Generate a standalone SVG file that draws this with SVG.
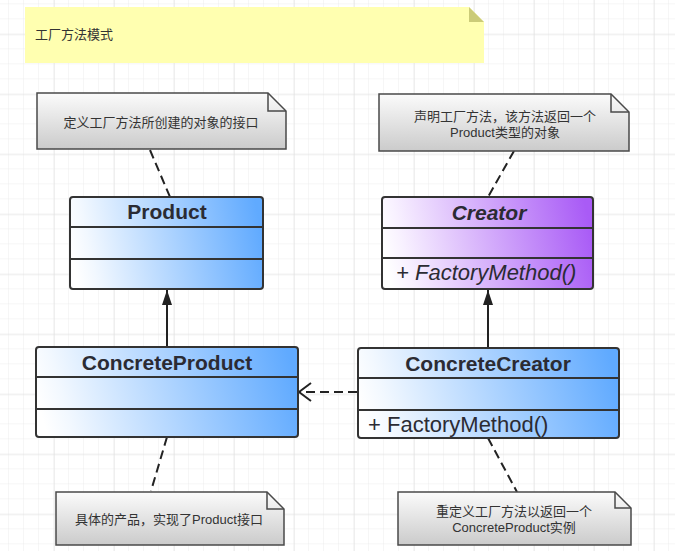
<svg xmlns="http://www.w3.org/2000/svg" width="675" height="551" viewBox="0 0 675 551">
<defs>
<pattern id="gridMinor" x="9" y="4.3" width="15" height="15" patternUnits="userSpaceOnUse">
<path d="M15 0V15M0 15H15" fill="none" stroke="#ededed" stroke-width="1"/>
</pattern>
<pattern id="gridMajor" x="54" y="34.3" width="60" height="60" patternUnits="userSpaceOnUse">
<path d="M0 0V60M0 0H60" fill="none" stroke="#e0e0e0" stroke-width="1"/>
</pattern>
<linearGradient id="blueGrad" x1="0" y1="0.55" x2="1" y2="0.45">
<stop offset="0" stop-color="#ffffff"/>
<stop offset="0.1" stop-color="#f2f8ff"/>
<stop offset="1" stop-color="#60aaff"/>
</linearGradient>
<linearGradient id="purpleGrad" x1="0" y1="0.55" x2="1" y2="0.45">
<stop offset="0" stop-color="#ffffff"/>
<stop offset="0.1" stop-color="#f8f1ff"/>
<stop offset="1" stop-color="#a95bf6"/>
</linearGradient>
<linearGradient id="noteGrad" x1="0" y1="0" x2="0" y2="1">
<stop offset="0" stop-color="#fbfbfb"/>
<stop offset="1" stop-color="#cbcbcb"/>
</linearGradient>
<marker id="triFilled" viewBox="0 0 15 10" refX="15" refY="5" markerWidth="15" markerHeight="10" markerUnits="userSpaceOnUse" orient="auto">
<path d="M15 5L0 0V10Z" fill="#222"/>
</marker>
</defs>
<style>
.cls { stroke: #333; stroke-width: 2; }
.div { stroke: #333; stroke-width: 2; fill: none; }
.title { font-family: "Liberation Sans", Arial, sans-serif; font-weight: bold; font-size: 21px; fill: #2b2b33; text-anchor: middle; }
.method { font-family: "Liberation Sans", Arial, sans-serif; font-size: 22px; fill: #2b2b33; }
.note { fill: url(#noteGrad); stroke: #4a4a4a; stroke-width: 1.5; }
.fold { fill: none; stroke: #4a4a4a; stroke-width: 1.5; }
.ntext { font-family: "Liberation Sans", "Noto Sans CJK SC", sans-serif; font-size: 13px; fill: #333; text-anchor: middle; }
.dash { stroke: #222; stroke-width: 2; fill: none; stroke-dasharray: 9 5; }
.solid { stroke: #222; stroke-width: 2; fill: none; }
</style>
<rect width="675" height="551" fill="#ffffff"/>
<rect width="675" height="551" fill="url(#gridMinor)"/>
<rect width="675" height="551" fill="url(#gridMajor)"/>

<g id="title-note">
<path d="M25 7H469L484 22V63H25Z" fill="#ffffb0"/>
<path d="M469 7V22H484Z" fill="#cbcb78"/>
<text x="35" y="39" style="font-family:'Liberation Sans','Noto Sans CJK SC',sans-serif;font-size:13px;fill:#333">工厂方法模式</text>
</g>

<g id="connectors">
<line class="dash" x1="150" y1="150" x2="170" y2="197"/>
<line class="dash" x1="514" y1="151" x2="488" y2="197"/>
<line class="dash" x1="167" y1="437" x2="151" y2="491"/>
<line class="dash" x1="488" y1="438" x2="517" y2="492"/>
<line class="solid" x1="167" y1="347" x2="167" y2="290" marker-end="url(#triFilled)"/>
<line class="solid" x1="488" y1="348" x2="488" y2="290" marker-end="url(#triFilled)"/>
<line class="dash" x1="357" y1="392" x2="300" y2="392"/>
<path class="solid" d="M311 383L299 392L311 401"/>
</g>

<g id="note-product">
<path class="note" d="M37 93H268L286 111V149H37Z"/>
<path class="fold" d="M268 93V111H286"/>
<text class="ntext" x="161" y="127">定义工厂方法所创建的对象的接口</text>
</g>

<g id="note-creator">
<path class="note" d="M379 94H611L629 112V151H379Z"/>
<path class="fold" d="M611 94V112H629"/>
<text class="ntext" x="505" y="121">声明工厂方法，该方法返回一个</text>
<text class="ntext" x="505" y="137">Product类型的对象</text>
</g>

<g id="Product">
<rect class="cls" x="70" y="197" width="193" height="92" rx="3" fill="url(#blueGrad)"/>
<line class="div" x1="70" y1="227" x2="263" y2="227"/>
<line class="div" x1="70" y1="259" x2="263" y2="259"/>
<text class="title" x="167" y="219">Product</text>
</g>

<g id="Creator">
<rect class="cls" x="382" y="197" width="211" height="92" rx="3" fill="url(#purpleGrad)"/>
<line class="div" x1="382" y1="228" x2="593" y2="228"/>
<line class="div" x1="382" y1="258" x2="593" y2="258"/>
<text class="title" x="489" y="220" font-style="italic">Creator</text>
<text class="method" x="396" y="280" font-style="italic">+ FactoryMethod()</text>
</g>

<g id="ConcreteProduct">
<rect class="cls" x="36" y="347" width="262" height="90" rx="3" fill="url(#blueGrad)"/>
<line class="div" x1="36" y1="377" x2="298" y2="377"/>
<line class="div" x1="36" y1="409" x2="298" y2="409"/>
<text class="title" x="167" y="370">ConcreteProduct</text>
</g>

<g id="ConcreteCreator">
<rect class="cls" x="358" y="348" width="261" height="90" rx="3" fill="url(#blueGrad)"/>
<line class="div" x1="358" y1="378" x2="619" y2="378"/>
<line class="div" x1="358" y1="410" x2="619" y2="410"/>
<text class="title" x="488" y="371">ConcreteCreator</text>
<text class="method" x="368" y="432">+ FactoryMethod()</text>
</g>

<g id="note-concreteproduct">
<path class="note" d="M56 492H267L284 509V545H56Z"/>
<path class="fold" d="M267 492V509H284"/>
<text class="ntext" x="169" y="524">具体的产品，实现了Product接口</text>
</g>

<g id="note-concretecreator">
<path class="note" d="M398 492H615L631 508V545H398Z"/>
<path class="fold" d="M615 492V508H631"/>
<text class="ntext" x="514" y="516">重定义工厂方法以返回一个</text>
<text class="ntext" x="514" y="532">ConcreteProduct实例</text>
</g>
</svg>
